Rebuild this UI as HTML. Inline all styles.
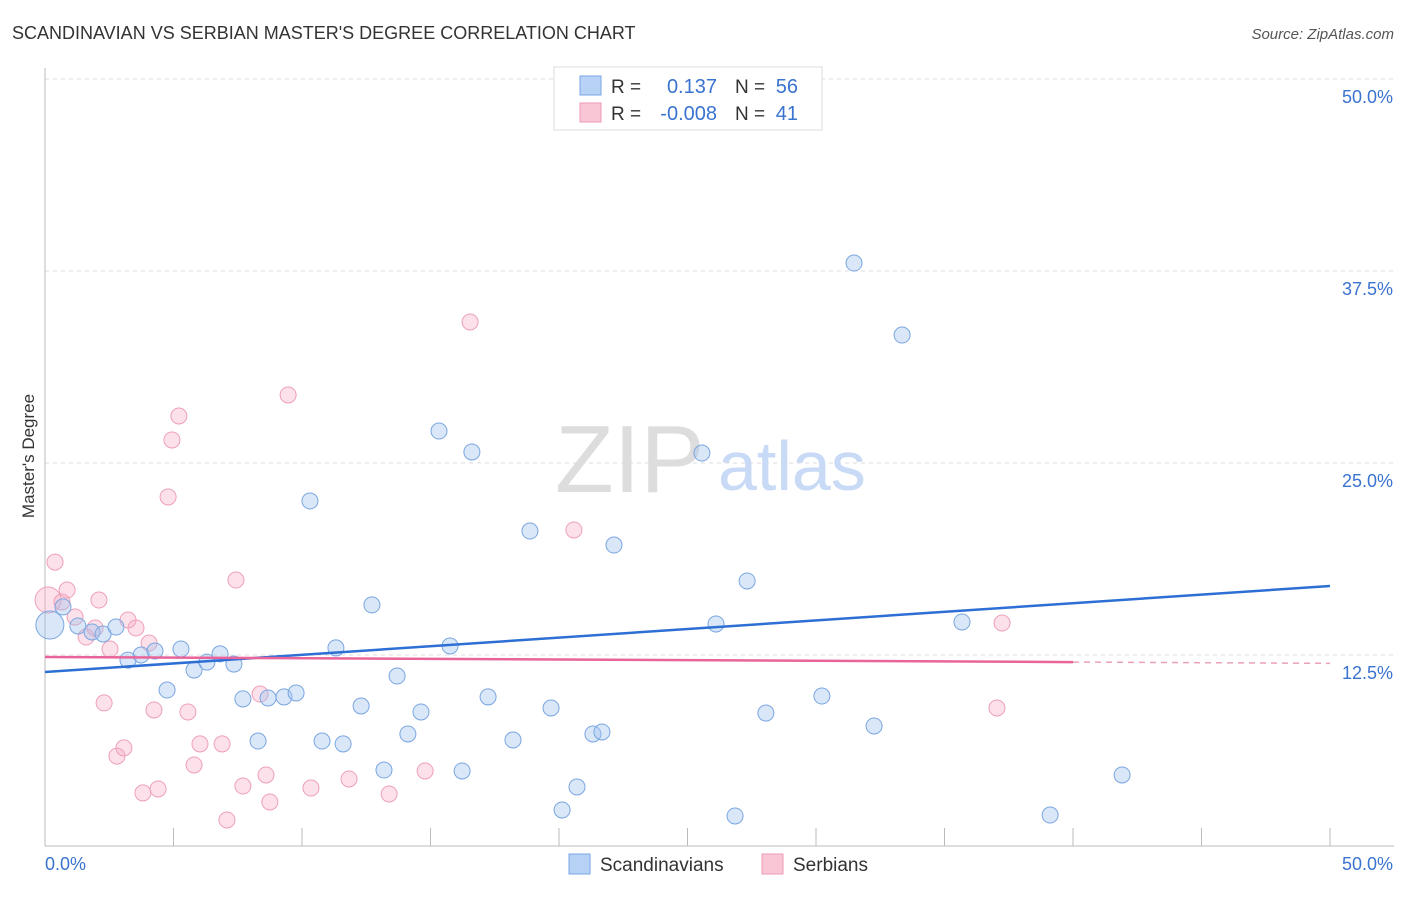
<!DOCTYPE html>
<html><head><meta charset="utf-8"><style>
body{margin:0;background:#fff;font-family:"Liberation Sans",sans-serif}
svg text{font-family:"Liberation Sans",sans-serif}
</style></head><body>
<svg width="1406" height="892" xmlns="http://www.w3.org/2000/svg">
<text x="12" y="39" font-size="18" fill="#333">SCANDINAVIAN VS SERBIAN MASTER'S DEGREE CORRELATION CHART</text>
<text x="1394" y="39" font-size="15" fill="#555" font-style="italic" text-anchor="end">Source: ZipAtlas.com</text>
<text x="34" y="456" font-size="17" fill="#333" text-anchor="middle" transform="rotate(-90 34 456)">Master's Degree</text>
<g id="grid"></g>
<g id="axes"></g>
<text x="555" y="492" font-size="96" fill="#ddd" font-family="Liberation Serif">ZIP</text>
<text x="718" y="490" font-size="70" fill="#c8daf5">atlas</text>
<g id="pts"></g>
<g id="trend"></g>
<g>
<rect x="554" y="67" width="268" height="63" fill="#fff" stroke="#ddd"/>
<rect x="580" y="76" width="21" height="19" fill="#b8d2f5" stroke="#7aa6e6"/>
<rect x="580" y="103" width="21" height="19" fill="#f9c6d6" stroke="#ee9ab4"/>
<text x="611" y="93" font-size="19" fill="#333">R =</text>
<text x="717" y="93" font-size="20" fill="#3a73d0" text-anchor="end">0.137</text>
<text x="735" y="93" font-size="19" fill="#333">N =</text>
<text x="798" y="93" font-size="20" fill="#3a73d0" text-anchor="end">56</text>
<text x="611" y="120" font-size="19" fill="#333">R =</text>
<text x="717" y="120" font-size="20" fill="#3a73d0" text-anchor="end">-0.008</text>
<text x="735" y="120" font-size="19" fill="#333">N =</text>
<text x="798" y="120" font-size="20" fill="#3a73d0" text-anchor="end">41</text>
</g>
<g>
<rect x="569" y="854" width="21" height="20" fill="#b8d2f5" stroke="#7aa6e6"/>
<text x="600" y="871" font-size="19" fill="#333">Scandinavians</text>
<rect x="762" y="854" width="21" height="20" fill="#f9c6d6" stroke="#ee9ab4"/>
<text x="793" y="871" font-size="19" fill="#333">Serbians</text>
</g>
</svg>
<script>
const yTicks=[12.5,25,37.5,50];
const yTickLabels=["12.5%","25.0%","37.5%","50.0%"];
const blueX=[0.19,0.70,1.28,1.83,2.26,2.76,3.23,3.74,4.28,4.75,5.29,5.80,6.30,6.81,7.35,7.70,8.29,8.68,9.30,9.77,10.31,10.78,11.32,11.60,12.30,12.72,13.19,13.70,14.12,14.63,15.33,15.76,16.23,16.61,17.24,18.21,18.87,19.69,20.12,20.70,21.32,21.67,22.14,25.56,26.11,26.85,27.32,28.05,30.23,31.48,32.26,33.35,35.68,39.11,41.91,28.75];
const blueY=[14.45,15.63,14.39,14.0,13.87,14.32,12.17,12.5,12.76,10.22,12.89,11.52,12.04,12.57,11.91,9.64,6.90,9.70,9.77,10.03,22.53,6.90,12.96,6.71,9.18,15.76,5.01,11.13,7.36,8.79,27.08,13.09,4.95,25.72,9.77,6.97,20.57,9.05,2.41,3.91,7.36,7.49,19.66,25.65,14.52,2.02,17.32,8.72,9.83,38.02,7.88,33.33,14.65,2.08,4.69,49.93];
const pinkX=[0.12,0.39,0.66,0.86,1.17,1.60,1.95,2.10,2.30,2.53,2.80,3.07,3.23,3.54,3.81,4.05,4.24,4.40,4.79,4.94,5.21,5.56,5.80,6.03,6.89,7.08,7.43,7.70,8.37,8.60,8.75,9.46,10.35,11.83,13.39,14.79,16.54,20.58,37.04,37.24];
const pinkY=[16.08,18.55,15.95,16.73,14.97,13.67,14.26,16.08,9.38,12.89,5.92,6.45,14.78,14.26,3.52,13.28,8.92,3.78,22.79,26.5,28.06,8.79,5.34,6.71,6.71,1.76,17.38,3.97,9.96,4.69,2.93,29.43,3.84,4.43,3.45,4.95,34.18,20.64,9.05,14.58];
const blueTrend=[11.39,16.99];
const pinkTrend=[12.37,12.04,40];
const NS="http://www.w3.org/2000/svg";
const X=v=>45+v*25.7, Y=v=>847-v*15.36;
function mk(t,a,p){const e=document.createElementNS(NS,t);for(const k in a)e.setAttribute(k,a[k]);p.appendChild(e);return e;}
const grid=document.getElementById('grid'),axes=document.getElementById('axes');
yTicks.forEach((t,i)=>{
 const l=mk('line',{x1:45,x2:1394,y1:Y(t),y2:Y(t),stroke:'#ddd','stroke-dasharray':'4,4'},grid);
 
 const tx=mk('text',{x:1393,y:Y(t)+24,'font-size':18,fill:'#3a73d0','text-anchor':'end'},grid);
 tx.textContent=yTickLabels[i];
 
});
mk('line',{x1:45,x2:45,y1:68,y2:846,stroke:'#bbb'},axes);
mk('line',{x1:45,x2:1394,y1:846,y2:846,stroke:'#bbb'},axes);
for(let i=0;i<=10;i++){const t=mk('line',{x1:X(i*5),x2:X(i*5),y1:828,y2:846,stroke:'#bbb'},axes);}
let a=mk('text',{x:45,y:870,'font-size':18,fill:'#3a73d0'},axes);a.textContent='0.0%';
a=mk('text',{x:1393,y:870,'font-size':18,fill:'#3a73d0','text-anchor':'end'},axes);a.textContent='50.0%';
const pts=document.getElementById('pts');
pinkX.forEach((x,i)=>{const c=mk('circle',{cx:X(x),cy:Y(pinkY[i]),r:i==0?13:8,fill:'rgba(246,170,195,0.35)',stroke:'#eea0b8','stroke-width':1},pts);
 });
blueX.forEach((x,i)=>{const c=mk('circle',{cx:X(x),cy:Y(blueY[i]),r:i==0?14:8,fill:'rgba(160,195,240,0.4)',stroke:'#7aa6e0','stroke-width':1},pts);
 });
const tr=document.getElementById('trend');
let l=mk('line',{x1:X(0),y1:Y(blueTrend[0]),x2:X(50),y2:Y(blueTrend[1]),stroke:'#2d6fd4','stroke-width':2.5},tr);
const ps=(pinkTrend[1]-pinkTrend[0])/pinkTrend[2];
l=mk('line',{x1:X(0),y1:Y(pinkTrend[0]),x2:X(pinkTrend[2]),y2:Y(pinkTrend[1]),stroke:'#e8649a','stroke-width':2.5},tr);
l=mk('line',{x1:X(pinkTrend[2]),y1:Y(pinkTrend[1]),x2:X(50),y2:Y(pinkTrend[0]+ps*50),stroke:'#e8a0bb','stroke-width':1.5,'stroke-dasharray':'6,5'},tr);
</script>
</body></html>
